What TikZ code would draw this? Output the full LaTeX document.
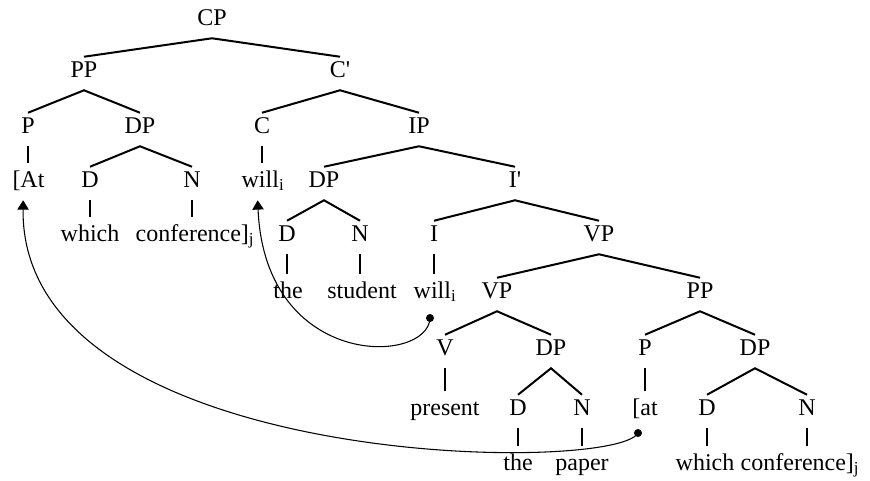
\documentclass[tikz,border=0pt]{standalone}
\usepackage{fontspec}
\setmainfont{Liberation Serif}
\usetikzlibrary{arrows.meta}
\begin{document}
\begin{tikzpicture}[x=0.75pt,y=-0.75pt,
  lab/.style={anchor=base,inner xsep=0pt,inner ysep=3pt,text height=12pt,text depth=6.75pt,font=\fontsize{18}{20}\selectfont},
  edge/.style={line width=1.5pt},
  vedge/.style={line width=1.5pt,shorten >=3pt},
  mv/.style={line width=0.8pt,-{Triangle[width=8.5pt,length=7pt]}},
  dotc/.style={fill,circle,inner sep=0pt,minimum size=6pt}]
\useasboundingbox (0,0) rectangle (870,480);
% row 0
\node[lab] (CP) at (212,25) {CP};
% row 1
\node[lab] (PP) at (84,77) {PP};
\node[lab] (Cb) at (340,77) {C\textquotesingle};
% row 2
\node[lab] (P1) at (28,133) {P};
\node[lab] (DP1) at (140,133) {DP};
\node[lab] (C) at (262,133) {C};
\node[lab] (IP) at (419,133) {IP};
% row 3
\node[lab] (At) at (28.5,187) {[At};
\node[lab] (D1) at (90,187) {D};
\node[lab] (N1) at (192,187) {N};
\node[lab] (will1) at (263,187) {will\textsubscript{i}};
\node[lab] (DP2) at (324,187) {DP};
\node[lab] (Ib) at (515,187) {I\textquotesingle};
% row 4
\node[lab] (which1) at (90,241) {which};
\node[lab] (conf1) at (195,241) {conference]\textsubscript{j}};
\node[lab] (D2) at (287,241) {D};
\node[lab] (N2) at (360,241) {N};
\node[lab] (I) at (434,241) {I};
\node[lab] (VP1) at (599,241) {VP};
% row 5
\node[lab] (the1) at (288,298) {the};
\node[lab] (student) at (362,298) {student};
\node[lab] (will2) at (435,298) {will\textsubscript{i}};
\node[lab] (VP2) at (497,298) {VP};
\node[lab] (PP2) at (700,298) {PP};
% row 6
\node[lab] (V) at (445,355) {V};
\node[lab] (DP3) at (551,355) {DP};
\node[lab] (P2) at (645,355) {P};
\node[lab] (DP4) at (755,355) {DP};
% row 7
\node[lab] (present) at (445,415) {present};
\node[lab] (D3) at (518,415) {D};
\node[lab] (N3) at (582,415) {N};
\node[lab] (at2) at (645,415) {[at};
\node[lab] (D4) at (707,415) {D};
\node[lab] (N4) at (807,415) {N};
% row 8
\node[lab] (the2) at (518,470) {the};
\node[lab] (paper) at (582,470) {paper};
\node[lab] (which2) at (705,470) {which};
\node[lab] (conf2) at (800,470) {conference]\textsubscript{j}};
% branches
\draw[edge] (PP.north) -- (CP.south) -- (Cb.north);
\draw[edge] (P1.north) -- (PP.south) -- (DP1.north);
\draw[edge] (C.north) -- (Cb.south) -- (IP.north);
\draw[edge] (D1.north) -- (DP1.south) -- (N1.north);
\draw[edge] (DP2.north) -- (IP.south) -- (Ib.north);
\draw[edge] (D2.north) -- (DP2.south) -- (N2.north);
\draw[edge] (I.north) -- (Ib.south) -- (VP1.north);
\draw[edge] (VP2.north) -- (VP1.south) -- (PP2.north);
\draw[edge] (V.north) -- (VP2.south) -- (DP3.north);
\draw[edge] (P2.north) -- (PP2.south) -- (DP4.north);
\draw[edge] (D3.north) -- (DP3.south) -- (N3.north);
\draw[edge] (D4.north) -- (DP4.south) -- (N4.north);
% unary branches
\draw[vedge] (P1.south) -- (P1.south |- At.north);
\draw[vedge] (C.south) -- (C.south |- will1.north);
\draw[vedge] (D1.south) -- (D1.south |- which1.north);
\draw[vedge] (N1.south) -- (N1.south |- conf1.north);
\draw[vedge] (D2.south) -- (D2.south |- the1.north);
\draw[vedge] (N2.south) -- (N2.south |- student.north);
\draw[vedge] (I.south) -- (I.south |- will2.north);
\draw[vedge] (V.south) -- (V.south |- present.north);
\draw[vedge] (P2.south) -- (P2.south |- at2.north);
\draw[vedge] (D3.south) -- (D3.south |- the2.north);
\draw[vedge] (N3.south) -- (N3.south |- paper.north);
\draw[vedge] (D4.south) -- (D4.south |- which2.north);
\draw[vedge] (N4.south) -- (N4.south |- conf2.north);
% movement
\node[dotc] (d1) at (430,318) {};
\node[dotc] (d2) at (638,433) {};
\draw[mv] (d1.center) .. controls (428,365) and (265,370) .. ([xshift=-4pt]will1.south);
\draw[mv] (d2.center) .. controls (615,475) and (20,470) .. ([xshift=-4pt]At.south);
\end{tikzpicture}
\end{document}
